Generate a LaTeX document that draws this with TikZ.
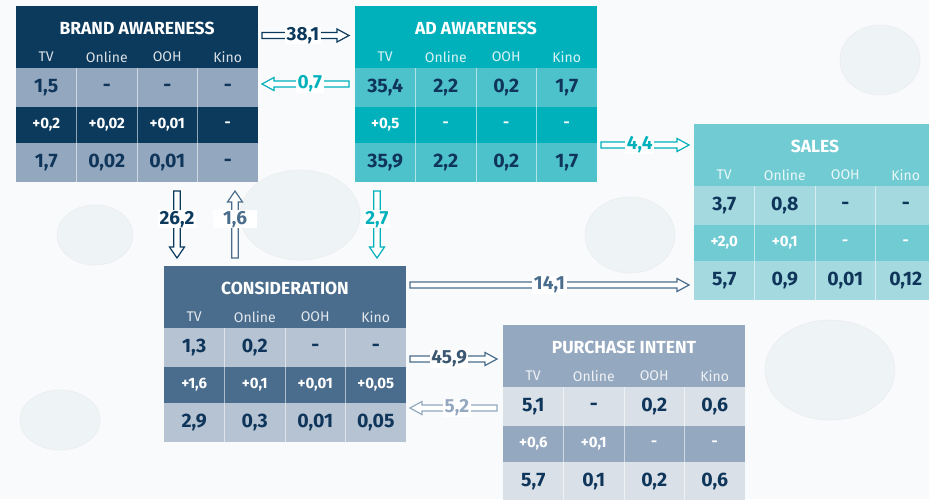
\documentclass[tikz,border=0pt]{standalone}
\usepackage{fontspec}
\setmainfont{Fira Sans}
\usetikzlibrary{calc}
\definecolor{bgC}{HTML}{F8FAFB}
\definecolor{bubC}{HTML}{EEF3F6}
\definecolor{baH}{HTML}{0C3A5D}
\definecolor{baL}{HTML}{93A7BF}
\definecolor{adH}{HTML}{00B1BC}
\definecolor{adL}{HTML}{4EC2CA}
\definecolor{saH}{HTML}{71CBD3}
\definecolor{saL}{HTML}{A4D9DF}
\definecolor{coH}{HTML}{4A6D8D}
\definecolor{coL}{HTML}{B6C3D3}
\definecolor{piH}{HTML}{94A8C0}
\definecolor{piL}{HTML}{D9E0E8}
\definecolor{valC}{HTML}{0F365A}
\tikzset{
  tblbox/.style={rectangle, minimum width=242pt, minimum height=176pt, inner sep=0pt, outer sep=0pt, anchor=north west},
  ttl/.style={text=white, font=\fontsize{17.5}{17.5}\selectfont\bfseries, inner sep=0pt},
  collbl/.style={text=white, opacity=.85, font=\fontsize{14}{14}\selectfont, inner sep=0pt},
  valtxt/.style={text=valC, font=\fontsize{19.5}{19.5}\selectfont\bfseries, inner sep=0pt},
  deltxt/.style={text=white, font=\fontsize{15}{15}\selectfont\bfseries, inner sep=0pt},
  lbl/.style={fill=white, inner xsep=1.5pt, inner ysep=0.5pt, font=\fontsize{19}{19}\selectfont\bfseries},
  arr/.style={draw=#1, line width=1.2pt, line join=miter, fill=white},
  bubble/.style={fill=bubC, draw=bubC!85!gray!60, line width=.6pt}
}
% #1 name, #2 x, #3 y, #4 title, #5 head colour, #6 light colour
\newcommand\dtable[6]{%
  \node[tblbox, fill=#5] (#1) at (#2,#3) {};
  \fill[#6] ([shift={(0,62)}]#1.north west) rectangle +(242,39);
  \fill[#6] ([shift={(0,137)}]#1.north west) rectangle +(242,39);
  \foreach \k in {1,2,3}
    \draw[white, opacity=.55, line width=.9pt] ([shift={(60.5*\k,62)}]#1.north west) -- +(0,114);
  \node[ttl] (#1-title) at ([shift={(121,22)}]#1.north west) {#4};
  \node[collbl] (#1-tv) at ([shift={(30.25,51)}]#1.north west) {TV};
  \node[collbl] (#1-on) at ([shift={(90.75,51)}]#1.north west) {Online};
  \node[collbl] (#1-oo) at ([shift={(151.25,51)}]#1.north west) {OOH};
  \node[collbl] (#1-ki) at ([shift={(211.75,51)}]#1.north west) {Kino};
}
% #1 name, #2 row id, #3 y centre, #4 style, #5-#8 values
\newcommand\trow[8]{%
  \node[#4] (#1-#2a) at ([shift={(30.25,#3)}]#1.north west) {#5};
  \node[#4] (#1-#2b) at ([shift={(90.75,#3)}]#1.north west) {#6};
  \node[#4] (#1-#2c) at ([shift={(151.25,#3)}]#1.north west) {#7};
  \node[#4] (#1-#2d) at ([shift={(211.75,#3)}]#1.north west) {#8};
}
% hollow arrow: #1 colour, #2 start, #3 end, #4 shaft half, #5 head half, #6 head length
\newcommand\fatarrow[6]{%
  \coordinate (fah) at ($(#3)!#6pt!(#2)$);
  \draw[arr=#1] ($(#2)!#4pt!90:(#3)$) -- ($(fah)!#4pt!90:(#3)$) -- ($(fah)!#5pt!90:(#3)$) -- (#3)
     -- ($(fah)!#5pt!-90:(#3)$) -- ($(fah)!#4pt!-90:(#3)$) -- ($(#2)!#4pt!-90:(#3)$) -- cycle;
}
\begin{document}
\begin{tikzpicture}[x=1pt,y=-1pt]
\useasboundingbox (0,0) rectangle (929,499);
\clip (0,0) rectangle (929,499);
\fill[bgC] (0,0) rectangle (929,499);
% faint background bubbles
\path[bubble] (95,235) ellipse (38 and 30);
\path[bubble] (300,215) ellipse (60 and 45);
\path[bubble] (630,235) ellipse (45 and 38);
\path[bubble] (480,120) ellipse (70 and 50);
\path[bubble] (830,370) ellipse (65 and 50);
\path[bubble] (60,420) ellipse (40 and 30);
\path[bubble] (880,60) ellipse (40 and 35);

% tables
\dtable{ba}{16}{6}{BRAND AWARENESS}{baH}{baL}
\trow{ba}{r1}{81.5}{valtxt}{1,5}{-}{-}{-}
\trow{ba}{r2}{119}{deltxt}{+0,2}{+0,02}{+0,01}{-}
\trow{ba}{r3}{156.5}{valtxt}{1,7}{0,02}{0,01}{-}

\dtable{ad}{355}{6}{AD AWARENESS}{adH}{adL}
\trow{ad}{r1}{81.5}{valtxt}{35,4}{2,2}{0,2}{1,7}
\trow{ad}{r2}{119}{deltxt}{+0,5}{-}{-}{-}
\trow{ad}{r3}{156.5}{valtxt}{35,9}{2,2}{0,2}{1,7}

\dtable{sa}{694}{124}{SALES}{saH}{saL}
\trow{sa}{r1}{81.5}{valtxt}{3,7}{0,8}{-}{-}
\trow{sa}{r2}{119}{deltxt}{+2,0}{+0,1}{-}{-}
\trow{sa}{r3}{156.5}{valtxt}{5,7}{0,9}{0,01}{0,12}

\dtable{co}{164}{266}{CONSIDERATION}{coH}{coL}
\trow{co}{r1}{81.5}{valtxt}{1,3}{0,2}{-}{-}
\trow{co}{r2}{119}{deltxt}{+1,6}{+0,1}{+0,01}{+0,05}
\trow{co}{r3}{156.5}{valtxt}{2,9}{0,3}{0,01}{0,05}

\dtable{pi}{503}{325}{PURCHASE INTENT}{piH}{piL}
\trow{pi}{r1}{81.5}{valtxt}{5,1}{-}{0,2}{0,6}
\trow{pi}{r2}{119}{deltxt}{+0,6}{+0,1}{-}{-}
\trow{pi}{r3}{156.5}{valtxt}{5,7}{0,1}{0,2}{0,6}

% arrow end points
\coordinate (a1s) at ([shift={(4,29.5)}]ba.north east);
\coordinate (a1e) at ([shift={(-6,29.5)}]ad.north west);
\coordinate (a2s) at ([shift={(-6,78)}]ad.north west);
\coordinate (a2e) at ([shift={(4,78)}]ba.north east);
\coordinate (a3s) at ([shift={(161,9)}]ba.south west);
\coordinate (a3e) at ([shift={(13,-8)}]co.north west);
\coordinate (a4s) at ([shift={(71,-8)}]co.north west);
\coordinate (a4e) at ([shift={(219,9)}]ba.south west);
\coordinate (a5s) at ([shift={(22,9)}]ad.south west);
\coordinate (a5e) at ([shift={(213,-8)}]co.north west);
\coordinate (a6s) at ([shift={(4,139)}]ad.north east);
\coordinate (a6e) at ([shift={(-5,21)}]sa.north west);
\coordinate (a7s) at ([shift={(4,19)}]co.north east);
\coordinate (a7e) at ([shift={(-5,161)}]sa.north west);
\coordinate (a8s) at ([shift={(4,93)}]co.north east);
\coordinate (a8e) at ([shift={(-6,34)}]pi.north west);
\coordinate (a9s) at ([shift={(-6,83)}]pi.north west);
\coordinate (a9e) at ([shift={(4,142)}]co.north east);

\fatarrow{baH}{a1s}{a1e}{3}{6.5}{12}
\fatarrow{adH}{a2s}{a2e}{3}{6.5}{12}
\fatarrow{baH}{a3s}{a3e}{3.3}{7.5}{11}
\fatarrow{coH}{a4s}{a4e}{3.3}{7.5}{11}
\fatarrow{adH}{a5s}{a5e}{3.3}{7.5}{11}
\fatarrow{adH}{a6s}{a6e}{3}{6.5}{12}
\fatarrow{coH}{a7s}{a7e}{3}{6.5}{12}
\fatarrow{coH}{a8s}{a8e}{3}{6.5}{12}
\fatarrow{piH}{a9s}{a9e}{3}{6.5}{12}

% labels
\node[lbl, text=baH] (l1) at ($(a1s)!0.47!(a1e)$) {38,1};
\node[lbl, text=adH] (l2) at ($(a2s)!0.45!(a2e)$) {0,7};
\node[lbl, text=baH] (l3) at ($(a3s)!0.42!(a3e)$) {26,2};
\node[lbl, text=coH, inner xsep=10pt] (l4) at ($(a4s)!0.58!(a4e)$) {1,6};
\node[lbl, text=adH] (l5) at ($(a5s)!0.42!(a5e)$) {2,7};
\node[lbl, text=adH] (l6) at ($(a6s)!0.44!(a6e)$) {4,4};
\node[lbl, text=coH] (l7) at ($(a7s)!0.5!(a7e)$) {14,1};
\node[lbl, text=coH!80!black] (l8) at ($(a8s)!0.45!(a8e)$) {45,9};
\node[lbl, text=piH] (l9) at ($(a9s)!0.46!(a9e)$) {5,2};
\end{tikzpicture}
\end{document}
